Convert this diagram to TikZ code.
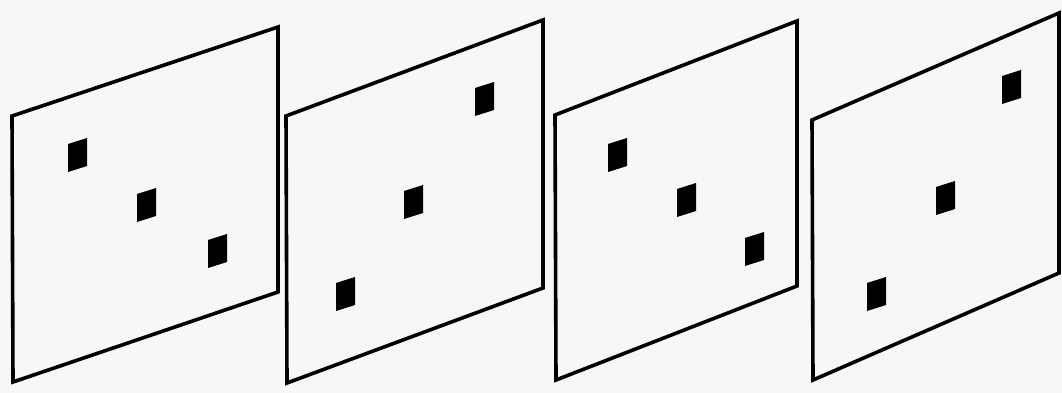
\documentclass[tikz,border=0pt]{standalone}
\usepackage{tikz}
\definecolor{bg}{HTML}{F7F7F7}
\tikzset{
  panel/.style={draw=black, line width=3.6pt, line join=miter},
  dot/.style={fill=black}
}
\newcommand{\blk}[2]{\fill[dot] (#1,#2) -- ++(19,-6) -- ++(0,28) -- ++(-19,6) -- cycle;}
\begin{document}
\begin{tikzpicture}[x=1pt,y=-1pt]
\fill[bg] (0,0) rectangle (1062,393);
\useasboundingbox (0,0) rectangle (1062,393);
% panel 1
\coordinate (a1) at (12,116); \coordinate (b1) at (278,27);
\coordinate (c1) at (278,292); \coordinate (d1) at (13,382);
\draw[panel] (a1) -- (b1) -- (c1) -- (d1) -- cycle;
\blk{68}{144}\blk{137}{194}\blk{208}{240}
% panel 2
\coordinate (a2) at (286,116); \coordinate (b2) at (543,20);
\coordinate (c2) at (543,288); \coordinate (d2) at (287,383);
\draw[panel] (a2) -- (b2) -- (c2) -- (d2) -- cycle;
\blk{475}{88}\blk{404}{191}\blk{336}{283}
% panel 3
\coordinate (a3) at (555,115); \coordinate (b3) at (797,21);
\coordinate (c3) at (797,286); \coordinate (d3) at (556,380);
\draw[panel] (a3) -- (b3) -- (c3) -- (d3) -- cycle;
\blk{608}{144}\blk{677}{189}\blk{745}{238}
% panel 4
\coordinate (a4) at (812,120); \coordinate (b4) at (1059,13);
\coordinate (c4) at (1059,273); \coordinate (d4) at (813,380);
\draw[panel] (a4) -- (b4) -- (c4) -- (d4) -- cycle;
\blk{1002}{76}\blk{936}{187}\blk{867}{283}
\end{tikzpicture}
\end{document}
